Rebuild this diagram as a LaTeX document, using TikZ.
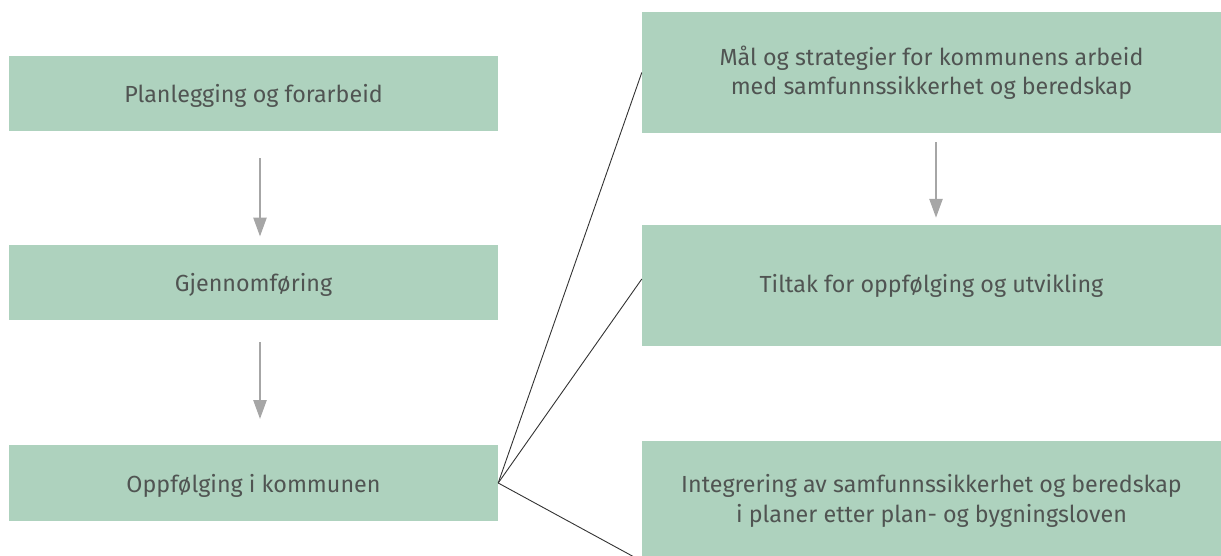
\documentclass[tikz,border=0pt]{standalone}
\usepackage{fontspec}
\setmainfont{Fira Sans}
\usetikzlibrary{arrows.meta}
\definecolor{boxgreen}{RGB}{174,210,190}
\definecolor{textgray}{RGB}{80,84,82}
\definecolor{arrowgray}{RGB}{166,166,166}
\tikzset{>={Triangle[length=19pt,width=13pt]}}
\tikzstyle{stage}=[rectangle,fill=boxgreen,text=textgray,inner sep=0pt,minimum width=489pt,minimum height=75.5pt,text depth=0pt,font=\fontsize{23.3}{30}\selectfont]
\tikzstyle{part}=[rectangle,fill=boxgreen,text=textgray,inner sep=0pt,minimum width=579pt,minimum height=121pt,align=center,font=\fontsize{23.3}{29.5}\selectfont]
\tikzstyle{flow}=[->,draw=arrowgray,fill=arrowgray,line width=2.5pt]
\tikzstyle{link}=[-,draw=black!80,line width=0.9pt]

\begin{document}
\begin{tikzpicture}[x=1pt,y=-1pt]
    \useasboundingbox (0,0) rectangle (1221,556);
    \clip (0,0) rectangle (1221,556);

    % left column
    \node[stage] (s1) at (253.5,93.5) {Planlegging og forarbeid};
    \node[stage] (s2) at (253.5,282.5) {Gjennomføring};
    \node[stage] (s3) at (253.5,483) {Oppfølging i kommunen};

    % right column
    \node[part] (p1) at (931.5,72.5) {Mål og strategier for kommunens arbeid\\med samfunnssikkerhet og beredskap};
    \node[part] (p2) at (931.5,285.5) {Tiltak for oppfølging og utvikling};
    \node[part,minimum height=120pt] (p3) at (931.5,501) {Integrering av samfunnssikkerhet og beredskap\\i planer etter plan- og bygningsloven};

    \draw[flow,shorten <=27pt,shorten >=8pt] ([xshift=6.5pt]s1.south) -- ([xshift=6.5pt]s2.north);
    \draw[flow,shorten <=22pt,shorten >=26pt] ([xshift=6.5pt]s2.south) -- ([xshift=6.5pt]s3.north);
    \draw[flow,shorten <=9pt,shorten >=7pt] ([xshift=4.5pt]p1.south) -- ([xshift=4.5pt]p2.north);

    \draw[link] (s3.east) -- (p1.west);
    \draw[link] (s3.east) -- ([yshift=6.5pt]p2.west);
    \draw[link] (s3.east) -- (p3.south west);
\end{tikzpicture}
\end{document}
